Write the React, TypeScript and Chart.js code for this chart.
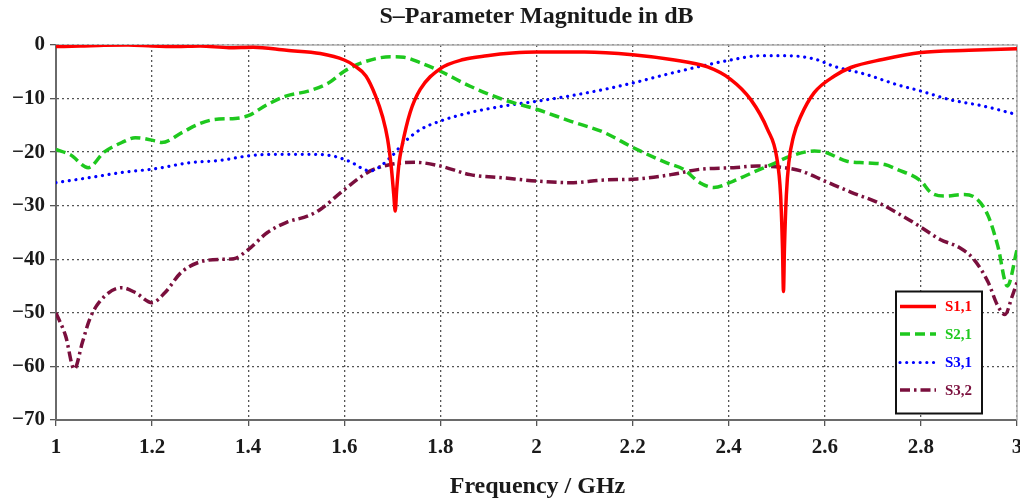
import { useEffect, useRef } from 'react';
import { Chart, registerables } from 'chart.js';

Chart.register(...registerables);

// ---- Data (frequency in GHz, magnitude in dB) ----
const s11Freq = [1.0, 1.05, 1.1, 1.15, 1.2, 1.25, 1.3, 1.36, 1.41, 1.48, 1.55, 1.6, 1.62, 1.645, 1.665, 1.68, 1.69, 1.698, 1.703, 1.706, 1.709, 1.714, 1.72, 1.737, 1.758, 1.8, 1.848, 1.897, 1.95, 2.0, 2.1, 2.2, 2.28, 2.356, 2.404, 2.446, 2.481, 2.5, 2.508, 2.512, 2.514, 2.516, 2.52, 2.525, 2.535, 2.55, 2.578, 2.62, 2.654, 2.72, 2.8, 2.9, 3.0];
const s11Db = [-0.3, -0.2, -0.05, 0, -0.2, -0.3, -0.2, -0.5, -0.4, -1.0, -1.6, -2.8, -3.8, -5.8, -9.5, -13.5, -17.5, -23, -28, -31, -27, -22, -18.9, -12.6, -8.3, -4.4, -2.7, -2.0, -1.5, -1.3, -1.3, -1.8, -2.7, -4.1, -6.4, -10.2, -15.8, -21, -28, -38, -46, -38, -28, -22, -17, -13.3, -8.9, -5.8, -4.2, -2.7, -1.4, -1.0, -0.7];

const s21Freq = [1.0, 1.03, 1.067, 1.1, 1.137, 1.165, 1.206, 1.22, 1.263, 1.296, 1.33, 1.373, 1.4, 1.44, 1.48, 1.525, 1.567, 1.6, 1.637, 1.696, 1.724, 1.758, 1.8, 1.862, 1.931, 2.0, 2.07, 2.14, 2.2, 2.271, 2.306, 2.34, 2.369, 2.41, 2.45, 2.49, 2.53, 2.578, 2.6, 2.646, 2.686, 2.725, 2.75, 2.8, 2.82, 2.85, 2.89, 2.917, 2.94, 2.96, 2.98, 3.0];
const s21Db = [-19.5, -20.5, -22.9, -20, -18.2, -17.3, -17.9, -18.2, -16.3, -14.8, -13.9, -13.7, -13.2, -11.1, -9.5, -8.6, -7.1, -4.9, -3.3, -2.2, -2.3, -3.3, -4.9, -7.7, -10.2, -12, -14.2, -16.3, -19.1, -22, -23.2, -25.7, -26.6, -25.4, -23.8, -22.3, -20.7, -19.8, -20, -21.7, -22, -22.3, -23.2, -25.4, -27.5, -28.2, -27.9, -28.8, -31.9, -37.5, -45, -38.2];

const s31Freq = [1.0, 1.067, 1.137, 1.206, 1.276, 1.345, 1.4, 1.456, 1.525, 1.575, 1.61, 1.654, 1.696, 1.724, 1.758, 1.8, 1.862, 1.931, 2.0, 2.07, 2.14, 2.2, 2.27, 2.34, 2.41, 2.466, 2.52, 2.578, 2.62, 2.686, 2.75, 2.8, 2.86, 2.93, 3.0];
const s31Db = [-25.7, -24.8, -23.8, -23.1, -22, -21.5, -20.7, -20.4, -20.4, -20.7, -21.7, -23.5, -21, -18.2, -15.8, -14.2, -12.6, -11.4, -10.5, -9.5, -8.3, -7.1, -5.5, -4, -2.7, -2, -2, -2.6, -4, -5.5, -7.4, -8.6, -10.2, -11.4, -13];

const s32Freq = [1.0, 1.02, 1.038, 1.055, 1.07, 1.09, 1.137, 1.165, 1.2, 1.227, 1.26, 1.296, 1.345, 1.37, 1.4, 1.44, 1.48, 1.525, 1.55, 1.6, 1.654, 1.696, 1.748, 1.8, 1.862, 1.931, 2.0, 2.07, 2.14, 2.21, 2.28, 2.34, 2.41, 2.46, 2.515, 2.55, 2.6, 2.655, 2.71, 2.75, 2.8, 2.84, 2.88, 2.91, 2.94, 2.96, 2.975, 2.99, 3.0];
const s32Db = [-50, -54.3, -60.5, -55.5, -51.2, -48, -45.3, -46.2, -48.1, -46.2, -42.5, -40.6, -40, -39.9, -38.2, -35, -33.1, -31.9, -30.7, -27, -23.5, -22.3, -21.9, -22.6, -24.2, -24.8, -25.4, -25.7, -25.2, -25, -24.2, -23.2, -22.9, -22.6, -22.9, -23.5, -25.4, -27.5, -29.4, -31.3, -34, -36.3, -37.8, -40, -44.3, -48.7, -50.3, -46.9, -44.3];

const seriesNames = ['S1,1', 'S2,1', 'S3,1', 'S3,2'];
const xTickValues = [1, 1.2, 1.4, 1.6, 1.8, 2, 2.2, 2.4, 2.6, 2.8, 3];
const yTickValues = [0, -10, -20, -30, -40, -50, -60, -70];

const titleText = 'S–Parameter Magnitude in dB';
const xTitleText = 'Frequency / GHz';

// ---- Styles ----
const SERIF = '"Liberation Serif", "Times New Roman", serif';
const colors = ['#ff0000', '#1ec81e', '#0000ff', '#7a0f3d'];
const dashes: number[][] = [[], [10, 5], [0.01, 6.7], [10, 4, 2.5, 4]];
const widths = [3.5, 3.5, 3.2, 3.5];
const caps: CanvasLineCap[] = ['butt', 'butt', 'round', 'butt'];

const toPoints = (xs: number[], ys: number[]) => xs.map((x, i) => ({ x, y: ys[i] }));

const decorPlugin = {
  id: 'decor',
  beforeDatasetsDraw(chart: any) {
    const { ctx, chartArea: a } = chart;
    ctx.save();
    ctx.strokeStyle = '#b0b0b0';
    ctx.lineWidth = 1.5;
    ctx.beginPath();
    ctx.moveTo(a.left, a.top);
    ctx.lineTo(a.right, a.top);
    ctx.lineTo(a.right, a.bottom);
    ctx.stroke();
    ctx.restore();
  },
  afterDatasetsDraw(chart: any) {
    const { ctx } = chart;
    // legend box
    const bx = 896, by = 291.5, bw = 86, bh = 122;
    ctx.save();
    ctx.fillStyle = '#ffffff';
    ctx.fillRect(bx, by, bw, bh);
    ctx.strokeStyle = '#111';
    ctx.lineWidth = 2;
    ctx.strokeRect(bx, by, bw, bh);
    const rows = [306.5, 334, 362.5, 390];
    seriesNames.forEach((name, i) => {
      const y = rows[i];
      ctx.save();
      ctx.strokeStyle = colors[i];
      ctx.lineWidth = widths[i];
      ctx.lineCap = caps[i];
      ctx.setLineDash(dashes[i]);
      ctx.beginPath();
      ctx.moveTo(900, y);
      ctx.lineTo(936, y);
      ctx.stroke();
      ctx.restore();
      ctx.fillStyle = colors[i];
      ctx.font = `bold 15px ${SERIF}`;
      ctx.textAlign = 'left';
      ctx.textBaseline = 'middle';
      ctx.fillText(name, 945, y + 1);
    });
    ctx.restore();
  },
  afterDraw(chart: any) {
    const { ctx, chartArea: a } = chart;
    const cx = (a.left + a.right) / 2;
    ctx.save();
    ctx.fillStyle = '#1a1a1a';
    ctx.textAlign = 'center';
    ctx.textBaseline = 'middle';
    ctx.font = `bold 24px ${SERIF}`;
    ctx.fillText(titleText, cx, 17);
    ctx.font = `bold 24px ${SERIF}`;
    ctx.fillText(xTitleText, cx + 1, 487);
    ctx.restore();
  },
};

const fmtX = (v: number) => String(Number(v.toFixed(1)));
const fmtY = (v: number) => (v < 0 ? '\u2212' + String(Math.abs(v)) : String(v));

export default function App() {
  const ref = useRef<HTMLCanvasElement>(null);

  useEffect(() => {
    if (!ref.current) return;
    const all = [
      toPoints(s11Freq, s11Db),
      toPoints(s21Freq, s21Db),
      toPoints(s31Freq, s31Db),
      toPoints(s32Freq, s32Db),
    ];
    const tickFont = { family: SERIF, weight: 'bold' as const, size: 21 };
    const chart = new Chart(ref.current, {
      type: 'line',
      data: {
        datasets: all.map((pts, i) => ({
          label: seriesNames[i],
          data: pts,
          borderColor: colors[i],
          backgroundColor: colors[i],
          borderWidth: widths[i],
          borderDash: dashes[i],
          borderCapStyle: caps[i],
          pointRadius: 0,
          fill: false,
          cubicInterpolationMode: 'monotone' as const,
          tension: 0.4,
        })),
      },
      options: {
        animation: false,
        responsive: false,
        maintainAspectRatio: false,
        layout: { padding: { top: 45, right: 3, left: 0, bottom: 0 } },
        plugins: {
          legend: { display: false },
          title: { display: false },
          tooltip: { enabled: false },
        },
        scales: {
          x: {
            type: 'linear',
            min: 1,
            max: 3,
            afterBuildTicks: (s: any) => {
              s.ticks = xTickValues.map((v) => ({ value: v }));
            },
            afterFit: (s: any) => {
              s.height = 82;
              s.paddingLeft = 0;
              s.paddingRight = 0;
            },
            ticks: {
              callback: (v: any) => fmtX(Number(v)),
              font: tickFont,
              color: '#1a1a1a',
              padding: 9,
              maxRotation: 0,
              autoSkip: false,
            },
            grid: { color: '#555', lineWidth: 1.3, tickLength: 6, tickColor: '#555' },
            border: { display: true, color: '#6a6a6a', width: 2, dash: [2, 3] },
          },
          y: {
            type: 'linear',
            min: -70,
            max: 0,
            afterBuildTicks: (s: any) => {
              s.ticks = yTickValues.map((v) => ({ value: v }));
            },
            afterFit: (s: any) => {
              s.width = 56;
              s.paddingTop = 0;
              s.paddingBottom = 0;
            },
            ticks: {
              callback: (v: any) => fmtY(Number(v)),
              font: tickFont,
              color: '#1a1a1a',
              padding: 5,
              autoSkip: false,
            },
            grid: { color: '#555', lineWidth: 1.3, tickLength: 6, tickColor: '#555' },
            border: { display: true, color: '#6a6a6a', width: 2, dash: [2, 3] },
          },
        },
      },
      plugins: [decorPlugin],
    } as any);
    return () => chart.destroy();
  }, []);

  return (
    <div style={{ position: 'absolute', left: 0, top: 0, width: 1020, height: 502, background: '#fff' }}>
      <canvas ref={ref} width={1020} height={502} style={{ display: 'block' }} />
    </div>
  );
}
